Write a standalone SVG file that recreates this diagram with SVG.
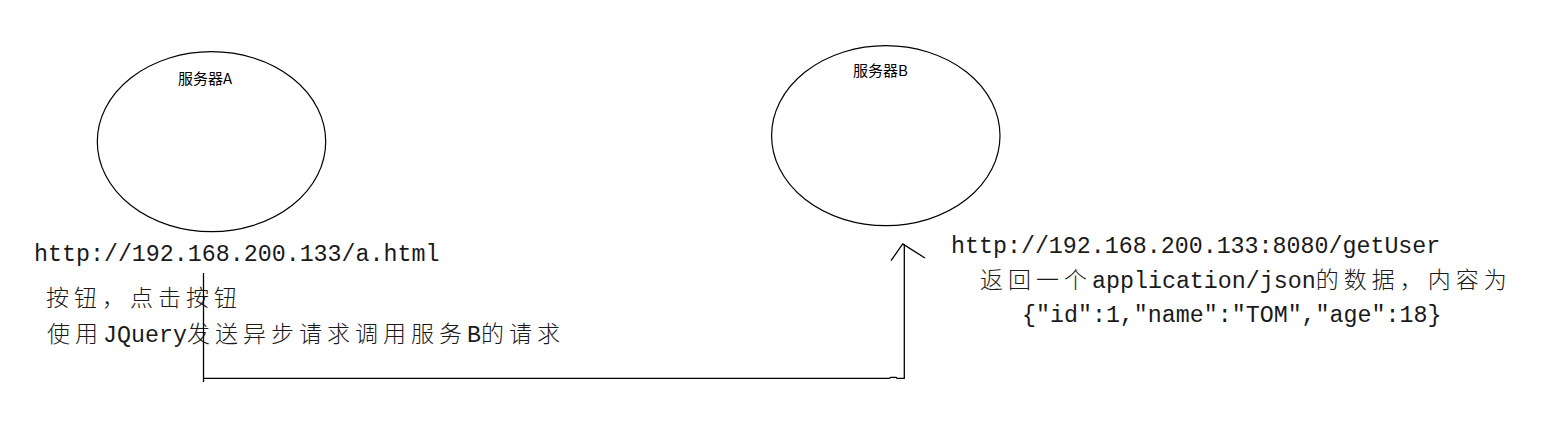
<svg xmlns="http://www.w3.org/2000/svg" width="1548" height="434" viewBox="0 0 1548 434">
<style>
.bg{fill:#fff}
.node{fill:none;stroke:#000;stroke-width:1.2}
.lbl{font-family:"Noto Sans CJK SC","Noto Sans",sans-serif;font-size:15px;fill:#000}
.t{font-family:"Liberation Mono","Noto Sans CJK SC",monospace;font-size:23.3px;fill:#1a1a1a}
.c{font-family:"Noto Sans CJK SC",sans-serif;font-size:23px;letter-spacing:5px;font-weight:300}
.conn{fill:none;stroke:#000;stroke-width:1.3}
</style>
<rect class="bg" x="0" y="0" width="1548" height="434"/>
<g id="serverA">
<ellipse class="node" cx="211.5" cy="141.7" rx="114.2" ry="90"/>
<text class="lbl" x="178" y="83.5">服务器A</text>
</g>
<g id="serverB">
<ellipse class="node" cx="885.8" cy="135.7" rx="114.2" ry="90"/>
<text class="lbl" x="853" y="76">服务器B</text>
</g>
<g id="textA">
<text class="t" x="34" y="261">http://192.168.200.133/a.html</text>
<text class="t" x="46" y="306"><tspan class="c">按钮，点击按钮</tspan></text>
<text class="t" x="47" y="342"><tspan class="c">使用</tspan>JQuery<tspan class="c">发送异步请求调用服务</tspan>B<tspan class="c">的请求</tspan></text>
</g>
<g id="textB">
<text class="t" x="951" y="253">http://192.168.200.133:8080/getUser</text>
<text class="t" x="980" y="288"><tspan class="c">返回一个</tspan>application/json<tspan class="c">的数据，内容为</tspan></text>
<text class="t" x="1022" y="322">{"id":1,"name":"TOM","age":18}</text>
</g>
<g id="connectors">
<polyline class="conn" points="203.5,273 203.5,382"/>
<polyline class="conn" points="203.5,378.3 889,378.3 891,377.3 896,377.3 897,378.3 904.3,378.3 904.3,244"/>
<polyline class="conn" points="891,260.7 902.7,244 925,258"/>
</g>
</svg>
